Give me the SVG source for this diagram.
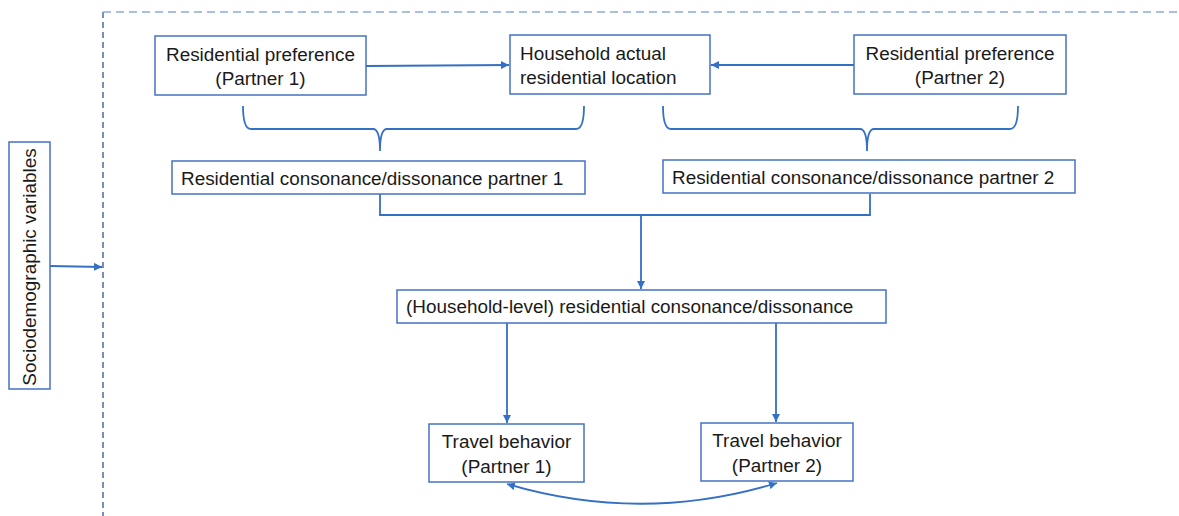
<svg xmlns="http://www.w3.org/2000/svg" width="1179" height="516" viewBox="0 0 1179 516">
<style>
.box{fill:#fff;stroke:#4472C4;stroke-width:1.5}
.t{font-family:"Liberation Sans",Arial,sans-serif;font-size:18.9px;fill:#1a1a1a}
.c{text-anchor:middle}
.ln{fill:none;stroke:#3370C6;stroke-width:1.8}
</style>
<defs>
<marker id="ah" viewBox="0 0 10 10" refX="10" refY="5" markerWidth="8" markerHeight="8" markerUnits="userSpaceOnUse" orient="auto-start-reverse">
<path d="M0,0 L10,5 L0,10 z" fill="#3370C6"/>
</marker>
</defs>
<rect width="1179" height="516" fill="#fff"/>
<g id="frame">
<line x1="103" y1="12" x2="103" y2="516" stroke="#2F5597" stroke-width="1.3" stroke-dasharray="6,4"/>
<line x1="103" y1="12" x2="1179" y2="12" stroke="#8EA9DB" stroke-width="1.3" stroke-dasharray="8,5"/>
</g>
<g id="connectors">
<line class="ln" x1="366" y1="66" x2="509" y2="65" marker-end="url(#ah)"/>
<line class="ln" x1="854" y1="65" x2="711" y2="65" marker-end="url(#ah)"/>
<line class="ln" x1="50" y1="266" x2="102" y2="267" marker-end="url(#ah)"/>
<path class="ln" d="M243,106 Q243,129 251,129 L373,129 Q380,129 380,151 Q380,129 387,129 L576,129 Q584,129 584,106"/>
<path class="ln" d="M663,106 Q663,129 671,129 L860,129 Q867,129 867,151 Q867,129 874,129 L1010,129 Q1018,129 1018,106"/>
<polyline class="ln" points="380,194 380,215 870,215 870,194"/>
<line class="ln" x1="641" y1="215" x2="641" y2="289" marker-end="url(#ah)"/>
<line class="ln" x1="507" y1="323" x2="507" y2="423" marker-end="url(#ah)"/>
<line class="ln" x1="776" y1="323" x2="776" y2="422" marker-end="url(#ah)"/>
<path class="ln" d="M507,484 Q642,524 777,483" marker-start="url(#ah)" marker-end="url(#ah)"/>
</g>
<g id="socio">
<rect class="box" x="9" y="142" width="41" height="247"/>
<text class="t c" transform="translate(36,267) rotate(-90)">Sociodemographic variables</text>
</g>
<g id="rp1">
<rect class="box" x="155" y="36" width="211" height="59"/>
<text class="t c" x="260.5" y="61">Residential preference</text>
<text class="t c" x="260.5" y="85">(Partner 1)</text>
</g>
<g id="hal">
<rect class="box" x="510" y="35" width="200" height="59"/>
<text class="t" x="520" y="60">Household actual</text>
<text class="t" x="520" y="84">residential location</text>
</g>
<g id="rp2">
<rect class="box" x="854" y="35" width="212" height="59"/>
<text class="t c" x="960" y="60">Residential preference</text>
<text class="t c" x="960" y="84">(Partner 2)</text>
</g>
<g id="rc1">
<rect class="box" x="172" y="161" width="413" height="33"/>
<text class="t" x="181" y="185">Residential consonance/dissonance partner 1</text>
</g>
<g id="rc2">
<rect class="box" x="663" y="160" width="412" height="33"/>
<text class="t" x="672" y="184">Residential consonance/dissonance partner 2</text>
</g>
<g id="hh">
<rect class="box" x="397" y="290" width="489" height="33"/>
<text class="t" x="406" y="313">(Household-level) residential consonance/dissonance</text>
</g>
<g id="tb1">
<rect class="box" x="429" y="424" width="155" height="58"/>
<text class="t c" x="506.5" y="448">Travel behavior</text>
<text class="t c" x="506.5" y="473">(Partner 1)</text>
</g>
<g id="tb2">
<rect class="box" x="701" y="423" width="152" height="58"/>
<text class="t c" x="777" y="447">Travel behavior</text>
<text class="t c" x="777" y="472">(Partner 2)</text>
</g>
</svg>
